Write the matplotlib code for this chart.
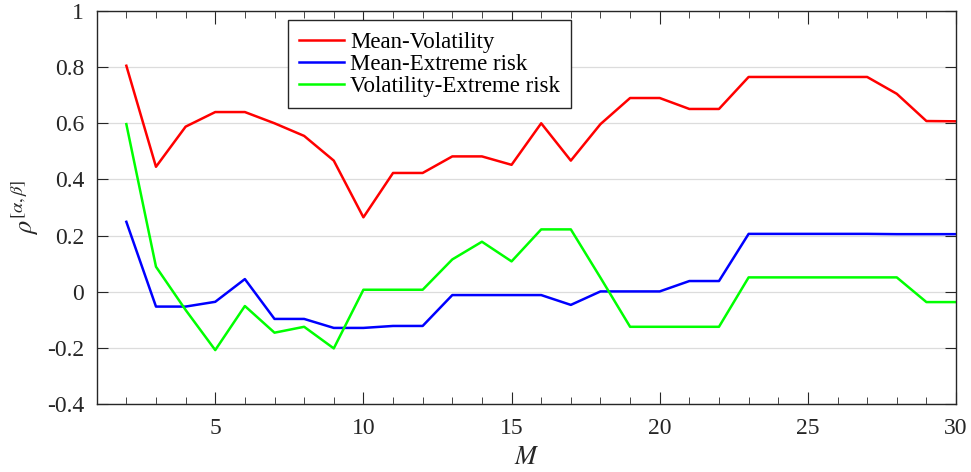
import matplotlib.pyplot as plt
import numpy as np

# window length M and correlation values
M = list(range(2, 31))
mean_vol = [0.805, 0.445, 0.588, 0.640, 0.640, 0.600, 0.555, 0.467, 0.265, 0.423,
            0.423, 0.482, 0.482, 0.452, 0.600, 0.467, 0.597, 0.690, 0.690, 0.651,
            0.651, 0.765, 0.765, 0.765, 0.765, 0.765, 0.705, 0.608, 0.607]
mean_ext = [0.249, -0.053, -0.053, -0.036, 0.045, -0.097, -0.097, -0.129, -0.129, -0.122,
            -0.122, -0.012, -0.012, -0.012, -0.012, -0.047, 0.001, 0.001, 0.001, 0.038,
            0.038, 0.206, 0.206, 0.206, 0.206, 0.206, 0.205, 0.205, 0.205]
vol_ext = [0.597, 0.089, -0.065, -0.208, -0.051, -0.146, -0.125, -0.202, 0.007, 0.007,
           0.007, 0.115, 0.178, 0.108, 0.222, 0.222, 0.05, -0.125, -0.125, -0.125,
           -0.125, 0.051, 0.051, 0.051, 0.051, 0.051, 0.051, -0.037, -0.037]

plt.rcParams["font.family"] = ["Liberation Serif", "DejaVu Serif"]
plt.rcParams["mathtext.fontset"] = "stix"

fig = plt.figure(figsize=(9.71, 4.72), dpi=100)
ax = fig.add_axes([0.0996, 0.1441, 0.885, 0.8326])

ax.plot(M, mean_vol, color="#ff0000", lw=1.8, label="Mean-Volatility")
ax.plot(M, mean_ext, color="#0000ff", lw=1.8, label="Mean-Extreme risk")
ax.plot(M, vol_ext, color="#00ff00", lw=1.8, label="Volatility-Extreme risk")

ax.set_xlim(1, 30)
ax.set_ylim(-0.4, 1)
ax.set_xticks([5, 10, 15, 20, 25, 30])
ax.set_xticks(range(1, 31), minor=True)
ax.set_yticks(np.arange(-0.4, 1.01, 0.2))
ax.set_yticklabels(["-0.4", "-0.2", "0", "0.2", "0.4", "0.6", "0.8", "1"])

ax.yaxis.grid(True, color="#dcdcdc", lw=0.9)
ax.set_axisbelow(True)

edge = "#262626"
for s in ax.spines.values():
    s.set_color(edge)
    s.set_linewidth(1.0)
ax.tick_params(axis="both", which="both", direction="in", top=True, right=True,
               colors=edge, labelsize=17)
ax.tick_params(axis="x", which="major", length=9, pad=10)
ax.tick_params(axis="x", which="minor", length=5)
ax.tick_params(axis="y", which="major", length=8, pad=9)

ax.set_xlabel("$M$", fontsize=19, color=edge, labelpad=6)
ax.set_ylabel(r"$\rho^{[\alpha,\beta]}$", fontsize=19, color=edge, labelpad=4)

leg = ax.legend(loc="upper left", bbox_to_anchor=(0.2226, 0.977), borderaxespad=0,
                fontsize=16.5, fancybox=False, framealpha=1, handlelength=1.95,
                handletextpad=0.25, labelspacing=0.05, borderpad=0.5)
leg.get_frame().set_edgecolor(edge)
leg.get_frame().set_linewidth(1.0)

fig.savefig("out.png", dpi=100)
